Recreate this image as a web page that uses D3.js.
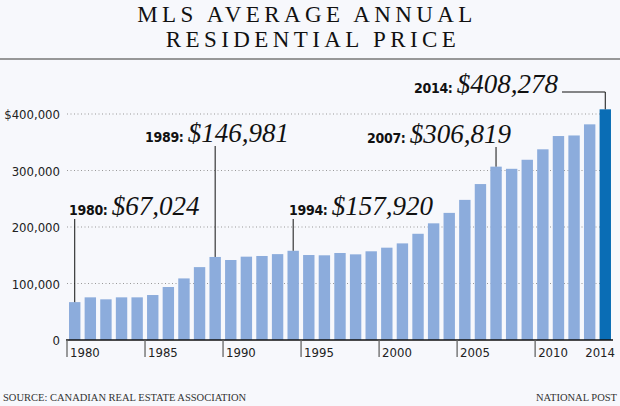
<!DOCTYPE html>
<html>
<head>
<meta charset="utf-8">
<script src="https://cdn.jsdelivr.net/npm/d3@7"></script>
<style>
  body { margin: 0; background: #f7f8fc; }
  svg { display: block; }
</style>
</head>
<body>
<svg width="620" height="406" id="mainSvg"></svg>
<script>
    // data
    const years = d3.range(1980, 2015);
    const prices = [67024, 75500, 72000, 75500, 75500, 79600, 93800, 109000, 129000, 146981,
        141600, 147500, 148700, 152000, 157920, 150400, 149900, 154000, 151600, 157000,
        163400, 171000, 188000, 206500, 225000, 248000, 276000, 306819, 303000, 319000,
        337500, 361000, 362000, 381700, 408278];
    const yTicks = [0, 100000, 200000, 300000, 400000];
    const xTickYears = [1980, 1985, 1990, 1995, 2000, 2005, 2010];
    const callouts = [
        { year: 1980, label: "1980:", value: "$67,024", lx: 69, ly: 215 },
        { year: 1989, label: "1989:", value: "$146,981", lx: 145, ly: 142 },
        { year: 1994, label: "1994:", value: "$157,920", lx: 289, ly: 215 },
        { year: 2007, label: "2007:", value: "$306,819", lx: 367, ly: 143 },
        { year: 2014, label: "2014:", value: "$408,278", lx: 414, ly: 93 }
    ];

    const svg = d3.select('#mainSvg');
    const margin = { top: 114, right: 7, bottom: 66, left: 67 };
    const width = +svg.attr("width");
    const height = +svg.attr("height");

    const sans = "'DejaVu Sans Condensed', 'Liberation Sans Narrow', 'Roboto', sans-serif";
    const serif = "'Liberation Serif', 'DejaVu Serif', serif";

    svg.append("rect").attr("width", width).attr("height", height).attr("fill", "#f7f8fc");

    // title
    const title = svg.append("text")
        .attr("text-anchor", "middle")
        .attr("font-family", serif)
        .attr("font-size", 23)
        .attr("letter-spacing", 4.4)
        .attr("fill", "#111");
    title.append("tspan").attr("x", 307).attr("y", 22).text("MLS AVERAGE ANNUAL");
    title.append("tspan").attr("x", 313).attr("y", 47).text("RESIDENTIAL PRICE");
    svg.append("line").attr("x1", 0).attr("x2", width).attr("y1", 59).attr("y2", 59)
        .attr("stroke", "#777").attr("stroke-width", 1.5);

    const x = d3.scaleBand()
        .domain(years)
        .range([margin.left, width - margin.right])
        .paddingInner(0.27)
        .paddingOuter(0.13);
    const y = d3.scaleLinear()
        .domain([0, 400000])
        .range([height - margin.bottom, margin.top]);

    // gridlines
    svg.append("g").selectAll("line").data(yTicks.slice(1)).join("line")
        .attr("x1", margin.left).attr("x2", width - margin.right)
        .attr("y1", d => y(d)).attr("y2", d => y(d))
        .attr("stroke", "#999").attr("stroke-dasharray", "1,2.5");

    // y labels
    svg.append("g").selectAll("text").data(yTicks).join("text")
        .attr("x", 60).attr("y", d => y(d) + 5)
        .attr("text-anchor", "end")
        .attr("font-family", sans).attr("font-size", 13)
        .attr("fill", "#222")
        .text(d => d === 400000 ? "$400,000" : d3.format(",")(d));

    // bars
    svg.append("g").selectAll("rect").data(years).join("rect")
        .attr("x", d => x(d))
        .attr("width", x.bandwidth())
        .attr("y", (d, i) => y(prices[i]))
        .attr("height", (d, i) => y(0) - y(prices[i]))
        .attr("fill", d => d === 2014 ? "#0a6db5" : "#8cacdc");

    // x axis
    const step = x.step();
    const left = d => x(d) - x.paddingOuter() * step;
    svg.append("line").attr("x1", margin.left - 1).attr("x2", width - margin.right)
        .attr("y1", y(0)).attr("y2", y(0)).attr("stroke", "#111").attr("stroke-width", 1.5);
    svg.append("g").selectAll("line").data(xTickYears).join("line")
        .attr("x1", d => left(d)).attr("x2", d => left(d))
        .attr("y1", y(0)).attr("y2", y(0) + 17)
        .attr("stroke", "#666").attr("stroke-width", 1.3);
    svg.append("g").selectAll("text").data(xTickYears).join("text")
        .attr("x", d => left(d) + 3).attr("y", y(0) + 17)
        .attr("font-family", sans).attr("font-size", 13).attr("fill", "#222")
        .text(d => d);
    svg.append("text").attr("x", 615).attr("y", y(0) + 17).attr("text-anchor", "end")
        .attr("font-family", sans).attr("font-size", 13).attr("fill", "#222")
        .text("2014");

    // callouts
    const cg = svg.append("g");
    callouts.forEach(c => {
        const i = years.indexOf(c.year);
        const cx = x(c.year) + x.bandwidth() / 2;
        const t = cg.append("text").attr("x", c.lx).attr("y", c.ly).attr("fill", "#111");
        t.append("tspan").attr("font-family", sans).attr("font-weight", "bold")
            .attr("font-size", 14).attr("letter-spacing", -0.3).text(c.label + " ");
        t.append("tspan").attr("font-family", serif).attr("font-style", "italic")
            .attr("font-size", 27).text(c.value);
        if (c.year === 2014) {
            cg.append("path")
                .attr("d", `M${c.lx + 148},${c.ly - 1}H${cx}V${y(prices[i])}`)
                .attr("fill", "none").attr("stroke", "#111");
        } else {
            cg.append("line").attr("x1", cx).attr("x2", cx)
                .attr("y1", c.ly + 4).attr("y2", y(prices[i]))
                .attr("stroke", "#111");
        }
    });

    // footer
    svg.append("text").attr("x", 3).attr("y", 401)
        .attr("font-family", serif).attr("font-size", 10.5).attr("fill", "#333")
        .text("SOURCE: CANADIAN REAL ESTATE ASSOCIATION");
    svg.append("text").attr("x", 617).attr("y", 401).attr("text-anchor", "end")
        .attr("font-family", serif).attr("font-size", 10.5)
        .attr("fill", "#333")
        .text("NATIONAL POST");
</script>
</body>
</html>
